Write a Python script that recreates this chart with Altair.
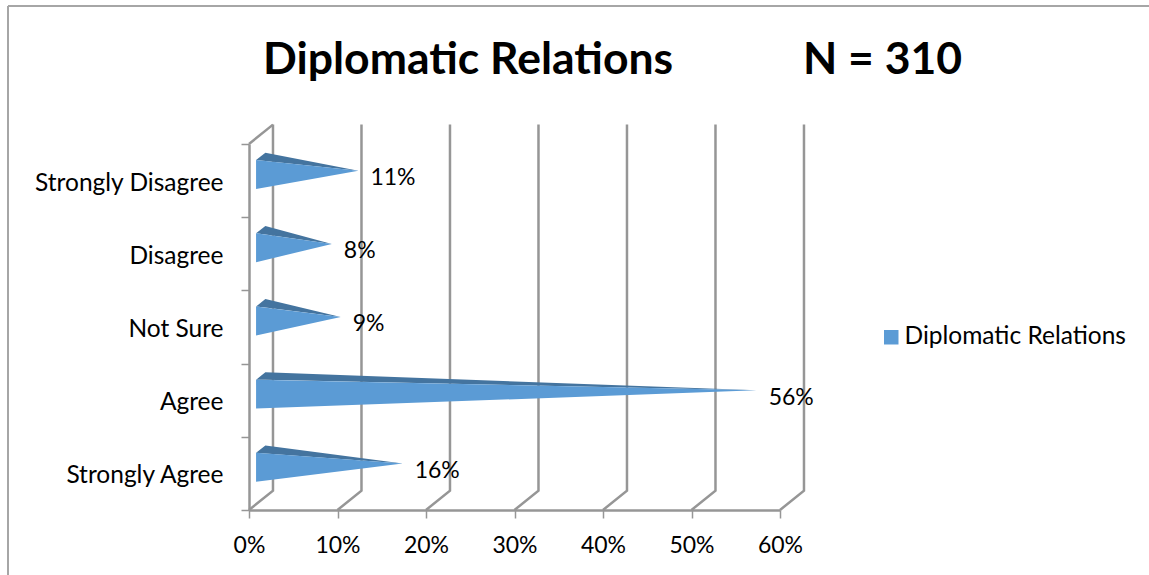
import altair as alt
import pandas as pd

# Survey responses, bottom row first
categories = ["Strongly Agree", "Agree", "Not Sure", "Disagree", "Strongly Disagree"]
values = [16, 56, 9, 8, 11]
series_name = "Diplomatic Relations"
grid_values = [0, 10, 20, 30, 40, 50, 60]

FONT = "Lato"
GREY = "#969696"
FRONT = "#5B9BD5"
TOP = "#44749F"
WORD_SIZE = 24.5
NUMBER_SIZE = 23

# Pseudo-3D depth of the chart box, in axis units
DEPTH_X = 2.71
DEPTH_Y = 0.265

front_rows, top_rows = [], []
for i, v in enumerate(values):
    mid = i + 0.5
    x0 = 0.8
    x1 = 1.85
    tip = v + 1.36
    hi, lo, tip_y = mid + 0.281, mid - 0.115, mid + 0.135
    back_y = hi + 0.1
    front_rows += [
        dict(cat=categories[i], series=series_name, x=x0, y=hi, y2=lo),
        dict(cat=categories[i], series=series_name, x=tip, y=tip_y, y2=tip_y),
    ]
    edge = hi + (tip_y - hi) * (x1 - x0) / (tip - x0)
    top_rows += [
        dict(cat=categories[i], x=x0, y=hi, y2=hi),
        dict(cat=categories[i], x=x1, y=back_y, y2=edge),
        dict(cat=categories[i], x=tip, y=tip_y, y2=tip_y),
    ]

label_rows = pd.DataFrame({
    "x": [v + 1.36 for v in values],
    "y": [i + 0.5 + 0.035 for i in range(len(values))],
    "text": [f"{v}%" for v in values],
})

wall_rows = []
for g in grid_values:
    wall_rows += [
        dict(line=f"g{g}", x=g, y=0, o=0),
        dict(line=f"g{g}", x=g + DEPTH_X, y=DEPTH_Y, o=1),
        dict(line=f"g{g}", x=g + DEPTH_X, y=5 + DEPTH_Y, o=2),
    ]
wall_rows += [
    dict(line="top", x=0, y=5, o=0),
    dict(line="top", x=DEPTH_X, y=5 + DEPTH_Y, o=1),
]

x_scale = alt.Scale(domain=[0, 60], nice=False)
y_scale = alt.Scale(domain=[0, 5], nice=False)

# Category axis and percentage axis
axes = alt.Chart(pd.DataFrame({"cat": categories, "v": values})).mark_point(opacity=0).encode(
    x=alt.X(
        "v:Q", scale=x_scale, title=None,
        axis=alt.Axis(
            values=grid_values, labelExpr="datum.value + '%'", grid=False,
            labelFlush=False, labelOverlap=False,
            domainColor=GREY, domainWidth=2.5, tickColor=GREY, tickWidth=1.5, tickSize=8,
            labelFont=FONT, labelFontSize=NUMBER_SIZE, labelColor="#000000", labelPadding=16,
        ),
    ),
    y=alt.Y(
        "cat:N", sort=categories[::-1], title=None,
        scale=alt.Scale(type="band", paddingInner=0, paddingOuter=0),
        axis=alt.Axis(
            tickBand="extent", grid=False,
            domainColor=GREY, domainWidth=2.5, tickColor=GREY, tickWidth=1.5, tickSize=8,
            labelFont=FONT, labelFontSize=WORD_SIZE, labelColor="#000000", labelPadding=18,
            labelBaseline="middle", labelLimit=300, labelOffset=2.5,
        ),
    ),
)

walls = alt.Chart(pd.DataFrame(wall_rows)).mark_line(color=GREY, strokeWidth=2.5, clip=False).encode(
    x=alt.X("x:Q", scale=x_scale),
    y=alt.Y("y:Q", scale=y_scale, axis=None),
    detail="line:N",
    order="o:Q",
)

top_face = alt.Chart(pd.DataFrame(top_rows)).mark_area(color=TOP).encode(
    x=alt.X("x:Q", scale=x_scale),
    y=alt.Y("y:Q", scale=y_scale, axis=None),
    y2="y2:Q",
    detail="cat:N",
)

front_face = alt.Chart(pd.DataFrame(front_rows)).mark_area().encode(
    x=alt.X("x:Q", scale=x_scale),
    y=alt.Y("y:Q", scale=y_scale, axis=None),
    y2="y2:Q",
    detail="cat:N",
    color=alt.Color(
        "series:N", scale=alt.Scale(range=[FRONT]), title=None,
        legend=alt.Legend(
            orient="none", legendX=630, legendY=181, symbolType="square", symbolSize=210,
            symbolStrokeWidth=0, labelFont=FONT, labelFontSize=WORD_SIZE, labelColor="#000000",
            labelOffset=1, labelLimit=300,
        ),
    ),
)

labels = alt.Chart(label_rows).mark_text(
    font=FONT, fontSize=NUMBER_SIZE, color="#000000", align="left", baseline="middle", dx=12
).encode(
    x=alt.X("x:Q", scale=x_scale),
    y=alt.Y("y:Q", scale=y_scale, axis=None),
    text="text:N",
)

# Outer frame of the chart area: top and left edges only
frame_top = alt.Chart(pd.DataFrame({"a": [0]})).mark_rule(color="#A6A6A6", strokeWidth=2).encode(
    x=alt.value(-241), x2=alt.value(900), y=alt.value(-138)
)
frame_left = alt.Chart(pd.DataFrame({"a": [0]})).mark_rule(color="#A6A6A6", strokeWidth=2).encode(
    x=alt.value(-241), y=alt.value(-138), y2=alt.value(431)
)

chart = (
    alt.layer(frame_top, frame_left, axes, walls, top_face, front_face, labels)
    .resolve_scale(y="independent")
    .properties(
        width=531,
        height=366,
        padding={"left": 249, "top": 144, "right": 369, "bottom": 65},
        autosize=alt.AutoSizeParams(type="none"),
        title=alt.TitleParams(
            text="Diplomatic Relations\u00a0\u00a0\u00a0\u00a0\u00a0\u00a0\u00a0\u00a0\u00a0\u00a0\u00a0\u00a0N = 310",
            font=FONT, fontSize=44.5, fontWeight="bold", color="#000000",
            anchor="start", frame="group", dx=14, offset=-78,
        ),
    )
    .configure_view(stroke=None)
)

chart.save("out.html", embed_options={"renderer": "svg", "actions": False})
